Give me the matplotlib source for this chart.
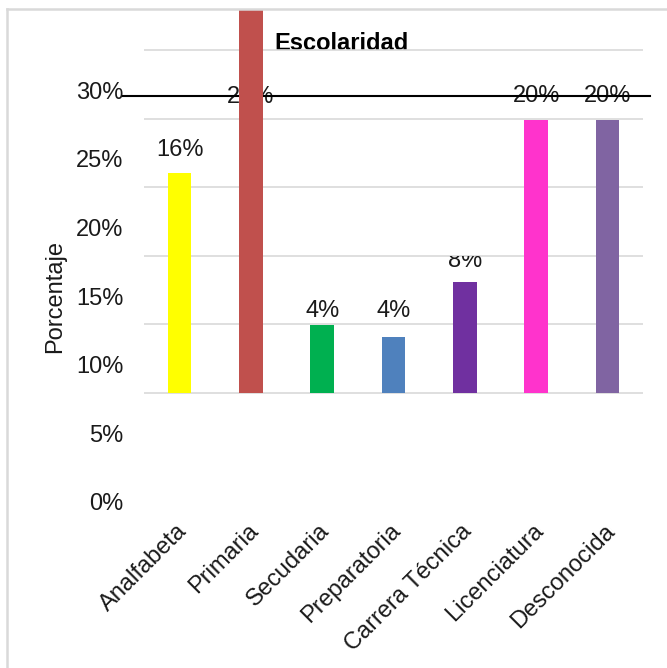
import matplotlib.pyplot as plt
from matplotlib.lines import Line2D
from matplotlib.transforms import Bbox, TransformedBbox, ScaledTranslation

plt.rcParams['font.family'] = ['Liberation Sans', 'DejaVu Sans']

categorias = ['Analfabeta', 'Primaria', 'Secudaria', 'Preparatoria',
              'Carrera Técnica', 'Licenciatura', 'Desconocida']
porcentajes = [16.0, 28.0, 4.95, 4.1, 8.1, 19.9, 19.9]
etiquetas = ['16%', '28%', '4%', '4%', '8%', '20%', '20%']
colores = ['#FFFF00', '#C0504D', '#00B050', '#4F81BD', '#7030A0', '#FF33CC', '#8064A2']
grid_vals = [0, 5, 10, 15, 20, 25]
tick_vals = [0, 5, 10, 15, 20, 25, 30]
tick_labels = ['0%', '5%', '10%', '15%', '20%', '25%', '30%']

# the exported chart has its value axis labels slid down (in % units)
desfase = 7.94
# gap (px) between bar top and its label, as they sit in the original
gaps = [12, 12, 3, 15, 10, 13, 13]
tope_etiqueta = 19.9   # labels never go higher than this
linea_eje = 21.65
fs = 17

W, H = 667, 668
fig = plt.figure(figsize=(W / 100, H / 100), dpi=100)
ax = fig.add_axes([144 / W, 1 - 520 / H, (643 - 144) / W, (520 - 9) / H])
ax.set_xlim(-0.5, 6.5)
ax.set_ylim(-9.26, 27.99)
for s in ax.spines.values():
    s.set_visible(False)

# marco del grafico
fig.add_artist(Line2D([7 / W, 7 / W], [0, 1 - 9 / H], color='#D9D9D9', lw=1.8))
fig.add_artist(Line2D([7 / W, 1], [1 - 9 / H, 1 - 9 / H], color='#D9D9D9', lw=1.8))

ax.text(341 / W, 1 - 43 / H, 'Escolaridad', ha='center', va='center',
        fontsize=fs, fontweight='bold', color='black', zorder=1,
        transform=fig.transFigure, clip_on=False)

for g in grid_vals:
    ax.axhline(g, color='#D9D9D9', lw=1.2, zorder=2)

x = range(len(categorias))
ax.bar(x, porcentajes, width=0.33, color=colores, zorder=5)

clip = TransformedBbox(Bbox([[-0.5, -10], [6.5, 10]]), ax.transData)
for i, (v, t) in enumerate(zip(porcentajes, etiquetas)):
    txt = ax.annotate(t, (i, min(v, tope_etiqueta)), xytext=(0, gaps[i] * 0.72),
                      textcoords='offset points', ha='center', va='bottom',
                      fontsize=fs, color='#1a1a1a', zorder=3, annotation_clip=False)
    if t == '8%':
        txt.set_clip_box(clip)
        txt.set_clip_on(True)

ax.plot([-0.79, 6.60], [linea_eje, linea_eje], color='black', lw=1.5,
        zorder=4, clip_on=False)

ax.set_yticks([v - desfase for v in tick_vals])
ax.set_yticklabels(tick_labels, fontsize=fs, color='#1a1a1a')
ax.tick_params(axis='y', length=0, pad=15)

ax.set_xticks(list(x))
ax.set_xticklabels(categorias, rotation=45, ha='right', va='top',
                   rotation_mode='anchor', fontsize=fs, color='#1a1a1a')
ax.tick_params(axis='x', length=0, pad=0)
for lab in ax.get_xticklabels():
    lab.set_transform(lab.get_transform() + ScaledTranslation(-4 / 100, 0, fig.dpi_scale_trans))

fig.text(55 / W, 1 - 297 / H, 'Porcentaje', rotation=90, ha='center', va='center',
         fontsize=fs, color='#1a1a1a')

fig.savefig('out.png', dpi=100)
